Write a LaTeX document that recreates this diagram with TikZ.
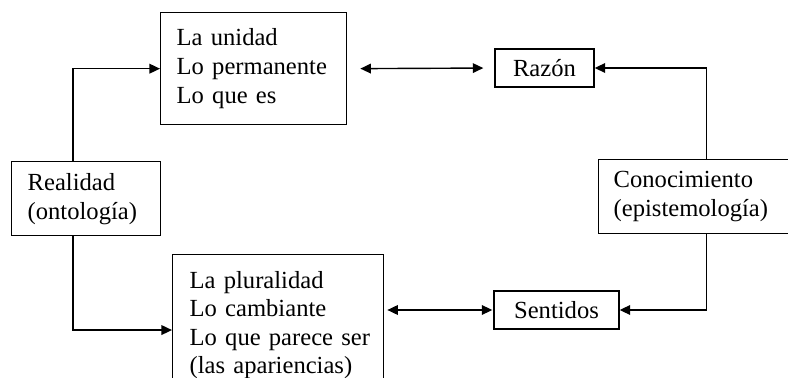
\documentclass[tikz,border=0pt]{standalone}
\usepackage{fontspec}
\setmainfont{Liberation Serif}
\usetikzlibrary{arrows.meta,positioning}

\begin{document}
\begin{tikzpicture}[x=0.02cm,y=-0.02cm,
  caja/.style={draw,line width=0.8pt,align=left,inner ysep=0pt,
    font=\fontsize{14pt}{16.5pt}\selectfont},
  cajita/.style={draw,line width=0.8pt,align=center,inner sep=0pt,
    minimum height=0.76cm,font=\fontsize{14pt}{16.5pt}\selectfont},
  flecha/.style={line width=0.8pt,-{Triangle[length=6pt,width=5.5pt]}},
  doble/.style={line width=0.8pt,{Triangle[length=6pt,width=5.5pt]}-{Triangle[length=6pt,width=5.5pt]}}]
\useasboundingbox (0,0) rectangle (788,378);
\clip (0,0) rectangle (788,378);
\node[caja,anchor=north west,text width=3.08cm,inner xsep=0.32cm,minimum height=2.24cm] (unidad) at (160,12)
  {La unidad\\Lo permanente\\Lo que es};
\node[caja,anchor=north west,text width=2.34cm,inner xsep=0.32cm,minimum height=1.48cm] (real) at (11,161)
  {Realidad\\(ontología)};
\node[caja,anchor=north west,text width=3.54cm,inner xsep=0.34cm,inner ysep=0.33cm,
  font=\fontsize{14pt}{16.2pt}\selectfont] (plural) at (172,254)
  {La pluralidad\\Lo cambiante\\\mbox{Lo que parece ser}\\\mbox{(las apariencias)}};
\node[caja,anchor=north west,text width=3.72cm,inner xsep=0.3cm,minimum height=1.48cm] (conoc) at (598,159)
  {Conocimiento\\(epistemología)};
\node[cajita,minimum width=1.98cm] (razon) at (544.5,68) {Razón};
\node[cajita,minimum width=2.5cm] (sent) at (556.5,310) {Sentidos};
\coordinate (rl) at (73,0);
\draw[flecha] (real.north -| rl) |- (unidad.west);
\draw[flecha] (real.south -| rl) |- ([yshift=-0.1cm]plural.west);
\draw[flecha] (conoc.north) |- (razon.east);
\draw[flecha] (conoc.south) |- (sent.east);
\draw[doble,shorten <=0.26cm,shorten >=0.22cm] (unidad.east) -- (razon.west);
\draw[doble,shorten <=0.06cm,shorten >=0.02cm] (plural.east |- sent.west) -- (sent.west);
\end{tikzpicture}
\end{document}
